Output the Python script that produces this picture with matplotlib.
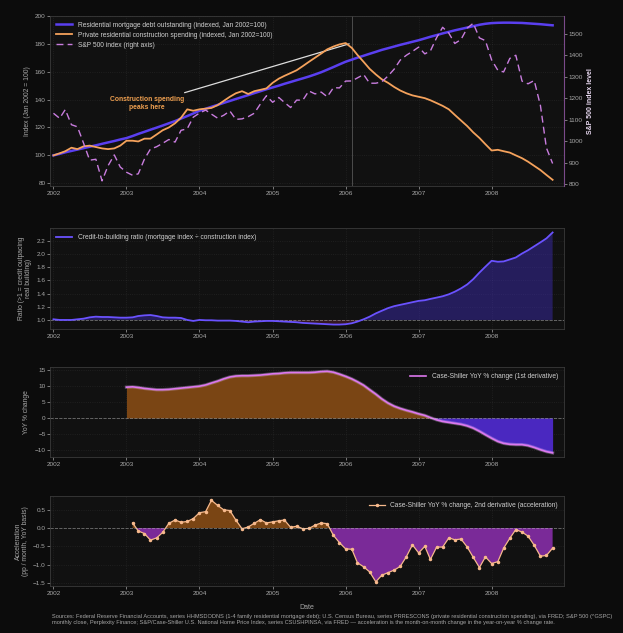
import matplotlib
matplotlib.use("Agg")
import matplotlib.pyplot as plt
import matplotlib.dates as mdates
import numpy as np
import pandas as pd

plt.rcParams["font.family"] = ["Liberation Sans", "DejaVu Sans"]

# monthly data, Jan 2002 - Nov 2008
dates = pd.date_range("2002-01-01", "2008-11-01", freq="MS")

mortgage_idx = [
    100.0, 101.1, 102.2, 103.2, 104.2, 105.2, 106.2, 107.2, 108.3, 109.3, 110.3, 111.4,
    112.4, 113.9, 115.4, 116.9, 118.4, 119.9, 121.4, 123.0, 124.6, 126.4, 128.2, 130.0,
    132.0, 133.4, 134.8, 136.2, 137.6, 139.0, 140.4, 141.8, 143.2, 144.6, 146.0, 147.4,
    148.7, 150.0, 151.3, 152.6, 153.9, 155.2, 156.5, 158.0, 159.6, 161.4, 163.3, 165.2,
    167.1, 168.6, 170.0, 171.4, 172.8, 174.2, 175.6, 176.8, 178.0, 179.2, 180.3, 181.4,
    182.5, 183.8, 185.0, 186.2, 187.4, 188.5, 189.6, 190.6, 191.6, 192.6, 193.6, 194.3,
    194.8, 195.0, 195.1, 195.1, 195.0, 194.9, 194.6, 194.3, 194.0, 193.6, 193.2,
]
construction_idx = [
    100.0, 101.5, 103.0, 105.5, 104.5, 106.5, 107.0, 106.0, 105.0, 104.5, 105.0, 107.0,
    110.5, 110.5, 110.0, 112.0, 112.0, 115.0, 118.0, 120.0, 123.0, 127.0, 133.0, 132.0,
    133.0, 133.5, 134.0, 136.0, 139.0, 142.0, 144.5, 146.0, 144.0, 146.0, 147.0, 148.0,
    152.0, 155.0, 157.0, 159.0, 161.0, 164.0, 167.0, 170.0, 173.0, 176.0, 178.0, 179.5,
    180.5, 177.0, 172.0, 167.0, 162.0, 158.0, 154.5, 152.0, 149.0, 146.5, 144.5, 143.0,
    142.0, 141.0, 139.5, 137.5, 135.5, 133.0, 129.0, 125.0, 121.0, 116.5, 112.5, 108.0,
    103.5, 104.0, 103.0, 102.0, 100.0, 98.0, 95.5, 92.5, 89.5, 86.0, 82.5,
]
sp500 = [
    1130.2, 1106.7, 1147.4, 1076.9, 1067.1, 989.8, 911.6, 916.1, 815.3, 885.8, 936.3, 879.8,
    855.7, 841.2, 848.2, 916.9, 963.6, 974.5, 990.3, 1008.0, 996.0, 1050.7, 1058.2, 1111.9,
    1131.1, 1144.9, 1126.2, 1107.3, 1120.7, 1140.8, 1101.7, 1104.2, 1114.6, 1130.2, 1173.8, 1211.9,
    1181.3, 1203.6, 1180.6, 1156.9, 1191.5, 1191.3, 1234.2, 1220.3, 1228.8, 1207.0, 1249.5, 1248.3,
    1280.1, 1280.7, 1294.9, 1310.6, 1270.1, 1270.2, 1276.7, 1303.8, 1335.9, 1377.9, 1400.6, 1418.3,
    1438.2, 1406.8, 1420.9, 1482.4, 1530.6, 1503.4, 1455.3, 1474.0, 1526.8, 1549.4, 1481.1, 1468.4,
    1378.6, 1330.6, 1322.7, 1385.6, 1400.4, 1280.0, 1267.4, 1282.8, 1166.4, 968.8, 896.2,
]
ratio = [
    1.01, 1.00, 1.00, 1.00, 1.01, 1.02, 1.04, 1.05, 1.045, 1.045, 1.04, 1.035,
    1.035, 1.04, 1.06, 1.07, 1.075, 1.06, 1.04, 1.035, 1.035, 1.03, 1.00, 0.985,
    1.00, 0.995, 0.995, 0.99, 0.99, 0.99, 0.985, 0.975, 0.965, 0.975, 0.98, 0.985,
    0.985, 0.98, 0.975, 0.97, 0.965, 0.955, 0.95, 0.945, 0.94, 0.935, 0.93, 0.93,
    0.935, 0.95, 0.975, 1.01, 1.05, 1.10, 1.14, 1.18, 1.21, 1.23, 1.25, 1.27,
    1.29, 1.30, 1.32, 1.34, 1.36, 1.39, 1.43, 1.48, 1.54, 1.62, 1.72, 1.81,
    1.90, 1.885, 1.89, 1.92, 1.95, 2.01, 2.06, 2.12, 2.18, 2.24, 2.33,
]

# Case-Shiller, Jan 2003 - Nov 2008
cs_dates = pd.date_range("2003-01-01", "2008-11-01", freq="MS")
cs_yoy = [
    9.7, 9.8, 9.6, 9.3, 9.1, 8.9, 8.9, 9.0, 9.2, 9.4, 9.6, 9.8,
    10.0, 10.4, 11.0, 11.6, 12.3, 12.9, 13.2, 13.3, 13.3, 13.4, 13.5, 13.7,
    13.9, 14.0, 14.2, 14.3, 14.3, 14.3, 14.3, 14.4, 14.6, 14.7, 14.4, 13.8,
    13.1, 12.3, 11.4, 10.3, 8.9, 7.5, 6.0, 4.7, 3.7, 3.0, 2.4, 1.9,
    1.3, 0.8, 0.1, -0.6, -1.1, -1.4, -1.7, -2.0, -2.5, -3.2, -4.2, -5.3,
    -6.4, -7.4, -8.0, -8.3, -8.4, -8.4, -8.7, -9.3, -10.0, -10.6, -11.0,
]
acc_dates = pd.date_range("2003-02-01", "2008-11-01", freq="MS")
cs_accel = [
    0.14, -0.08, -0.15, -0.33, -0.27, -0.12, 0.13, 0.22, 0.16, 0.18, 0.26,
    0.42, 0.45, 0.76, 0.62, 0.50, 0.48, 0.22, -0.02, 0.03, 0.13, 0.23, 0.14,
    0.17, 0.20, 0.22, 0.02, 0.05, -0.02, -0.01, 0.08, 0.14, 0.12, -0.20, -0.40,
    -0.57, -0.58, -0.95, -1.06, -1.20, -1.47, -1.29, -1.22, -1.15, -1.05, -0.78, -0.46,
    -0.68, -0.50, -0.86, -0.52, -0.52, -0.27, -0.32, -0.30, -0.52, -0.80, -1.08, -0.79,
    -0.97, -0.92, -0.55, -0.28, -0.04, -0.11, -0.22, -0.47, -0.77, -0.75, -0.55,
]

peak_date = pd.Timestamp("2006-02-01")

BG = "#0c0c0c"
AX_BG = "#111111"
TXT = "#a8a8a8"
MORT = "#5a3ff0"
CONS = "#f5a25c"
SPX = "#c97ddf"
ORANGE_FILL = "#7a4514"
LAB = 4.9
TICK = 4.6

fig = plt.figure(figsize=(6.23, 6.33), dpi=100, facecolor=BG)
L, W = 0.081, 0.824
ax1 = fig.add_axes([L, 0.706, W, 0.269])
ax2 = fig.add_axes([L, 0.480, W, 0.160])
ax3 = fig.add_axes([L, 0.278, W, 0.142])
ax4 = fig.add_axes([L, 0.074, W, 0.142])

xlim = (pd.Timestamp("2001-12-17"), pd.Timestamp("2008-12-27"))


def style(ax):
    ax.set_facecolor(AX_BG)
    for s in ax.spines.values():
        s.set_color("#3a3a3a")
        s.set_linewidth(0.6)
    ax.tick_params(colors=TXT, labelsize=TICK, length=2, width=0.5, pad=1.5)
    ax.grid(True, color="#ffffff", alpha=0.08, linestyle=":", linewidth=0.6)
    ax.set_axisbelow(True)
    ax.xaxis.set_major_locator(mdates.YearLocator())
    ax.xaxis.set_major_formatter(mdates.DateFormatter("%Y"))
    ax.set_xlim(*xlim)


for a in (ax1, ax2, ax3, ax4):
    style(a)

leg_kw = dict(fontsize=4.8, frameon=False, labelcolor="#d0d0d0", handlelength=2.4,
              labelspacing=0.45)

# panel 1
ax1.plot(dates, mortgage_idx, color=MORT, lw=1.8,
         label="Residential mortgage debt outstanding (indexed, Jan 2002=100)", zorder=4)
ax1.plot(dates, construction_idx, color=CONS, lw=1.3,
         label="Private residential construction spending (indexed, Jan 2002=100)", zorder=4)
ax1.set_ylim(78, 200)
ax1.set_yticks([80, 100, 120, 140, 160, 180, 200])
ax1.set_ylabel("Index (Jan 2002 = 100)", color=TXT, fontsize=LAB, labelpad=3)
ax1.axvline(peak_date, color="#888888", lw=0.7, alpha=0.5, zorder=2)
ax1.annotate("Construction spending\npeaks here",
             xy=(peak_date, max(construction_idx)),
             xytext=(pd.Timestamp("2003-04-15"), 137),
             ha="center", va="center", fontsize=4.9, fontweight="bold", color="#f0a050",
             arrowprops=dict(arrowstyle="-", color="#dddddd", lw=0.9), zorder=3)

ax1r = ax1.twinx()
ax1r.plot(dates, sp500, color=SPX, lw=1.0, ls=(0, (5, 3)), label="S&P 500 index (right axis)")
ax1r.set_ylim(791, 1584)
ax1r.set_yticks(range(800, 1501, 100))
ax1r.tick_params(colors=TXT, labelsize=TICK, length=2, width=0.5, pad=1.5)
for s in ax1r.spines.values():
    s.set_visible(False)
ax1r.spines["right"].set_visible(True)
ax1r.spines["right"].set_color("#7a4a8a")
ax1r.set_ylabel("S&P 500 index level", color="#e8d8f0", fontsize=5.0, fontweight="bold",
                labelpad=3)
ax1r.set_xlim(*xlim)

h1, l1 = ax1.get_legend_handles_labels()
h2, l2 = ax1r.get_legend_handles_labels()
leg = ax1.legend(h1 + h2, l1 + l2, loc="upper left", borderaxespad=0.5, **leg_kw)
leg.set_zorder(10)

# panel 2
r = np.array(ratio)
ax2.plot(dates, r, color="#6a52ff", lw=1.3,
         label="Credit-to-building ratio (mortgage index \u00f7 construction index)", zorder=4)
ax2.fill_between(dates, r, 1.0, where=r >= 1.0, interpolate=True, color="#3a2aa8", alpha=0.5, lw=0)
ax2.fill_between(dates, r, 1.0, where=r < 1.0, interpolate=True, color="#8a2a4a", alpha=0.3, lw=0)
ax2.axhline(1.0, color="#cccccc", lw=0.6, ls="--", alpha=0.5)
ax2.set_yticks([1.0, 1.2, 1.4, 1.6, 1.8, 2.0, 2.2])
ax2.set_ylim(0.86, 2.40)
ax2.set_ylabel("Ratio (>1 = credit outpacing\nreal building)", color=TXT, fontsize=LAB,
               labelpad=3, linespacing=1.0)
ax2.legend(loc="upper left", **leg_kw)

# panel 3
y3 = np.array(cs_yoy)
ax3.fill_between(cs_dates, y3, 0, where=y3 >= 0, interpolate=True, color=ORANGE_FILL, lw=0)
ax3.fill_between(cs_dates, y3, 0, where=y3 < 0, interpolate=True, color="#4a28c0", lw=0)
ax3.plot(cs_dates, y3, color="#f0c8ff", lw=2.4, alpha=0.3)
ax3.plot(cs_dates, y3, color="#dd78ee", lw=1.2, label="Case-Shiller YoY % change (1st derivative)")
ax3.axhline(0, color="#cccccc", lw=0.6, ls="--", alpha=0.5)
ax3.set_ylim(-12.3, 16.0)
ax3.set_yticks([-10, -5, 0, 5, 10, 15])
ax3.set_ylabel("YoY % change", color=TXT, fontsize=LAB, labelpad=3)
ax3.legend(loc="upper right", **leg_kw)

# panel 4
y4 = np.array(cs_accel)
ax4.fill_between(acc_dates, y4, 0, where=y4 >= 0, interpolate=True, color=ORANGE_FILL, lw=0)
ax4.fill_between(acc_dates, y4, 0, where=y4 < 0, interpolate=True, color="#7a2a98", lw=0)
ax4.plot(acc_dates, y4, color="#f7b98c", lw=0.9, marker="o", ms=1.5,
         label="Case-Shiller YoY % change, 2nd derivative (acceleration)")
ax4.axhline(0, color="#cccccc", lw=0.6, ls="--", alpha=0.5)
ax4.set_ylim(-1.59, 0.87)
ax4.set_yticks([-1.5, -1.0, -0.5, 0.0, 0.5])
ax4.set_ylabel("Acceleration\n(pp / month, YoY basis)", color=TXT, fontsize=LAB,
               labelpad=3, linespacing=1.0)
ax4.set_xlabel("Date", color=TXT, fontsize=5.0, labelpad=6)
ax4.legend(loc="upper right", **leg_kw)

fig.text(0.083, 0.0215,
         "Sources: Federal Reserve Financial Accounts, series HHMSDODNS (1-4 family residential mortgage debt); "
         "U.S. Census Bureau, series PRRESCONS (private residential construction spending), via FRED; S&P 500 (^GSPC)\n"
         "monthly close, Perplexity Finance; S&P/Case-Shiller U.S. National Home Price Index, series CSUSHPINSA, "
         "via FRED \u2014 acceleration is the month-on-month change in the year-on-year % change rate.",
         fontsize=4.1, color=TXT, ha="left", va="center", linespacing=1.4)

fig.savefig("out.png", dpi=100, facecolor=BG)
